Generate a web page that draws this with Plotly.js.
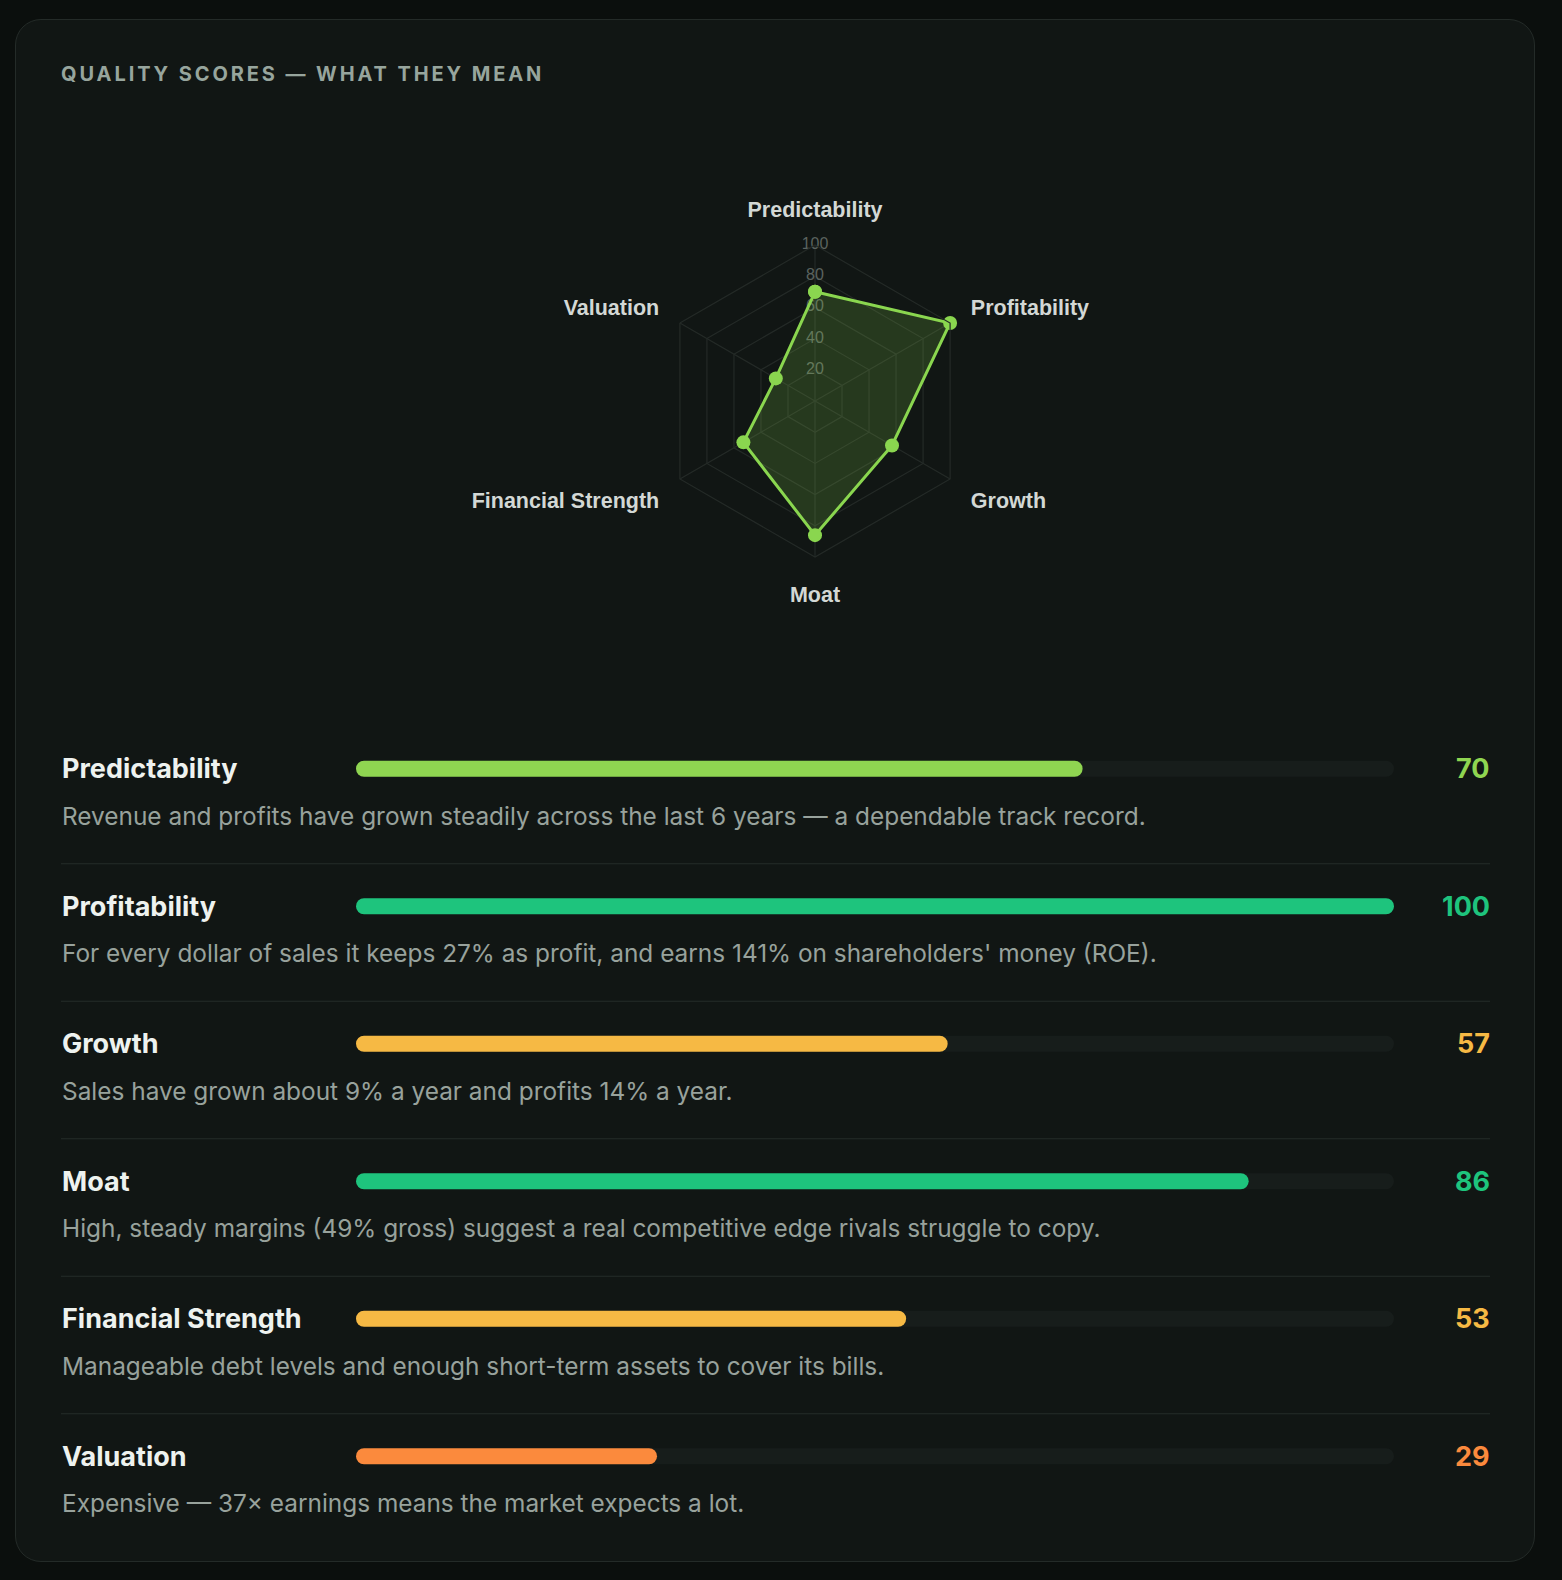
<!DOCTYPE html>
<html>
<head>
<meta charset="utf-8">
<script src="https://cdn.plot.ly/plotly-3.0.1.min.js"></script>
<style>
  html, body { margin: 0; padding: 0; background: #0b0f0d; width: 1562px; height: 1580px; overflow: hidden; }
  #card { position: absolute; left: 15px; top: 19px; width: 1520px; height: 1543px; box-sizing: border-box;
          border: 1px solid #242b28; border-radius: 26px; background: #111614; }
  #chart { position: absolute; left: 0; top: 0; width: 1562px; height: 1580px; }
  .gtitle { letter-spacing: 2.9px; }
  .cartesianlayer .scatterlayer .js-line { stroke-linecap: round; }
</style>
</head>
<body>
<div id="card"></div>
<div id="chart"></div>
<script>
// ---- data ----
const categories = ["Predictability", "Profitability", "Growth", "Moat", "Financial Strength", "Valuation"];
const scores = [70, 100, 57, 86, 53, 29];
const descriptions = [
  "Revenue and profits have grown steadily across the last 6 years — a dependable track record.",
  "For every dollar of sales it keeps 27% as profit, and earns 141% on shareholders' money (ROE).",
  "Sales have grown about 9% a year and profits 14% a year.",
  "High, steady margins (49% gross) suggest a real competitive edge rivals struggle to copy.",
  "Manageable debt levels and enough short-term assets to cover its bills.",
  "Expensive — 37× earnings means the market expects a lot."
];
const radialTicks = [20, 40, 60, 80, 100];
const scoreMax = 100;
const chartTitle = "QUALITY SCORES — WHAT THEY MEAN";

// ---- styles ----
const barColors = ["#8fd551", "#1ec47d", "#f6b944", "#1ec47d", "#f6b944", "#fb8a3d"];
const W = 1562, H = 1580;
const barThick = 16;
const trackLeft = 356, trackRight = 1394;
// round caps add half the thickness at each end; inset the line ends so the capsule spans exactly 0 → value
const capUnits = (barThick / 2) * scoreMax / (trackRight - trackLeft);

const traces = [
  {
    type: "scatterpolar", mode: "text", subplot: "polar",
    r: radialTicks, theta: radialTicks.map(() => categories[0]),
    text: radialTicks.map(String), textposition: "middle center",
    textfont: { family: "Liberation Sans, Arial, sans-serif", size: 16, color: "#5b635f" },
    hoverinfo: "skip", showlegend: false, cliponaxis: false
  },
  {
    type: "scatterpolar", mode: "lines+markers", subplot: "polar",
    r: scores.concat([scores[0]]), theta: categories.concat([categories[0]]),
    fill: "toself", fillcolor: "rgba(139,214,80,0.18)",
    line: { color: "#8ad64f", width: 3 },
    marker: { color: "#8ad64f", size: 14 },
    showlegend: false, hoverinfo: "skip"
  }
];

// background tracks (0 → max) as one line trace with gaps
const trackX = [], trackY = [];
categories.forEach(c => { trackX.push(capUnits, scoreMax - capUnits, null); trackY.push(c, c, null); });
traces.push({
  type: "scatter", mode: "lines", xaxis: "x2", yaxis: "y2",
  x: trackX, y: trackY, line: { color: "#171d1b", width: barThick },
  showlegend: false, hoverinfo: "skip"
});
// score bars
categories.forEach((c, i) => {
  traces.push({
    type: "scatter", mode: "lines", xaxis: "x2", yaxis: "y2",
    x: [capUnits, scores[i] - capUnits], y: [c, c], line: { color: barColors[i], width: barThick },
    showlegend: false, hoverinfo: "skip"
  });
});

const annotations = [];
const shapes = [];
categories.forEach((c, i) => {
  annotations.push({
    xref: "paper", yref: "y2", x: 60 / W, y: c, xanchor: "left", yanchor: "middle",
    text: "<b>" + c + "</b>", showarrow: false,
    font: { family: "Inter, sans-serif", size: 27, color: "#eef2ef" }
  });
  annotations.push({
    xref: "paper", yref: "y2", x: 60 / W, y: c, yshift: -47, xanchor: "left", yanchor: "middle",
    text: descriptions[i], showarrow: false,
    font: { family: "Inter, sans-serif", size: 24.4, color: "#98a29c" }
  });
  annotations.push({
    xref: "paper", yref: "y2", x: 1492 / W, y: c, xanchor: "right", yanchor: "middle",
    text: "<b>" + scores[i] + "</b>", showarrow: false,
    font: { family: "Inter, sans-serif", size: 27, color: barColors[i] }
  });
  if (i < categories.length - 1) {
    shapes.push({
      type: "line", xref: "paper", yref: "y2", x0: 61 / W, x1: 1490 / W,
      ysizemode: "pixel", yanchor: i, y0: -95, y1: -95,
      line: { color: "#252c29", width: 1 }
    });
  }
});

const layout = {
  width: W, height: H,
  margin: { l: 0, r: 0, t: 0, b: 0 },
  paper_bgcolor: "rgba(0,0,0,0)", plot_bgcolor: "rgba(0,0,0,0)",
  title: {
    text: "<b>" + chartTitle + "</b>", x: 61 / W, xanchor: "left", y: 1 - 74 / H, yanchor: "middle",
    font: { family: "Inter, sans-serif", size: 20, color: "#97a59d" }
  },
  polar: {
    domain: { x: [(815 - 156) / W, (815 + 156) / W], y: [1 - 557 / H, 1 - 245 / H] },
    bgcolor: "rgba(0,0,0,0)",
    gridshape: "linear",
    radialaxis: {
      range: [0, 100], tickvals: radialTicks, showticklabels: false, ticks: "",
      showline: false, gridcolor: "#242a27", gridwidth: 1.2
    },
    angularaxis: {
      rotation: 90, direction: "clockwise",
      categoryorder: "array", categoryarray: categories,
      ticks: "outside", ticklen: 19, tickcolor: "rgba(0,0,0,0)",
      showline: true, linecolor: "#242a27", linewidth: 1.2, gridcolor: "#242a27", gridwidth: 1.2,
      tickfont: { family: "Liberation Sans, Arial, sans-serif", size: 21.5, color: "#d3d8d5", weight: 700 }
    }
  },
  xaxis2: {
    domain: [trackLeft / W, trackRight / W], range: [0, scoreMax],
    visible: false, fixedrange: true, anchor: "y2"
  },
  yaxis2: {
    domain: [1 - 1525 / H, 1 - 700 / H], type: "category",
    categoryorder: "array", categoryarray: categories, range: [5.5, -0.5],
    visible: false, fixedrange: true, anchor: "x2"
  },
  annotations: annotations,
  shapes: shapes
};

Plotly.newPlot("chart", traces, layout, { displayModeBar: false, staticPlot: true });
</script>
</body>
</html>
